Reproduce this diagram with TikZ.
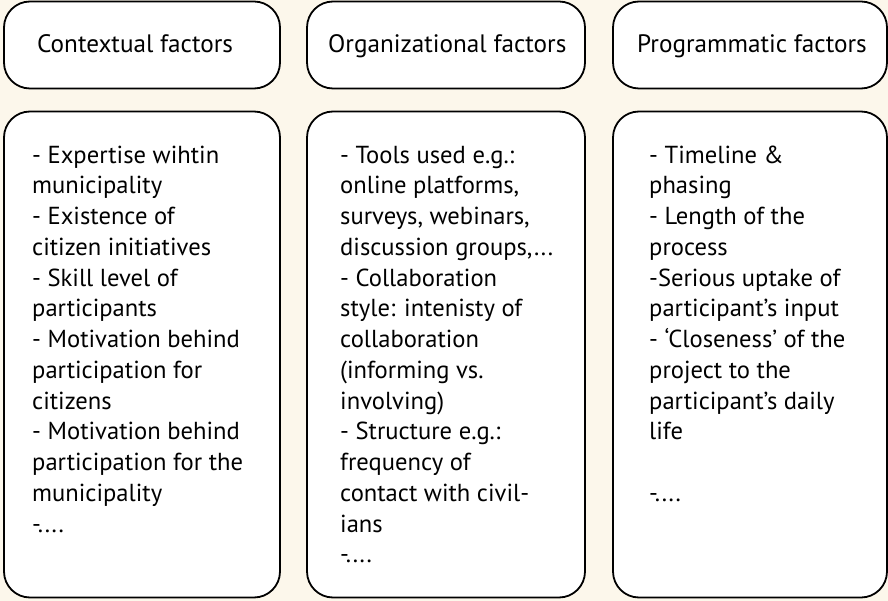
\documentclass[tikz,border=0pt]{standalone}
\usepackage{fontspec}
\setmainfont{PT Sans}
\definecolor{bgcream}{RGB}{252,247,235}
\begin{document}
\begin{tikzpicture}[x=1pt,y=-1pt,
  box/.style={draw=black,line width=1.8pt,fill=white,rounded corners=26pt,inner sep=0pt},
  head/.style={inner sep=0pt,anchor=base west,font=\fontsize{25.2}{30}\selectfont},
  body/.style={inner sep=0pt,anchor=base west,align=left,font=\fontsize{24.6}{30.75}\selectfont}]
\useasboundingbox (0,0) rectangle (888,601);
\fill[bgcream] (0,0) rectangle (888,601);
\node[box,minimum width=276pt,minimum height=87pt] (h1) at (142,45) {};
\node[box,minimum width=278pt,minimum height=87pt] (h2) at (446,45) {};
\node[box,minimum width=274pt,minimum height=87pt] (h3) at (750,45) {};
\node[box,minimum width=276pt,minimum height=486pt] (b1) at (142,354.5) {};
\node[box,minimum width=278pt,minimum height=486pt] (b2) at (446,354.5) {};
\node[box,minimum width=274pt,minimum height=486pt] (b3) at (750,354.5) {};
\node[head] (ht1) at (37,53) {Contextual factors};
\node[head] (ht2) at (328,53) {Organizational factors};
\node[head] (ht3) at (637,53) {Programmatic factors};
% anchor base = baseline of the last line
\node[body] (bt1) at (32,532) {- Expertise wihtin\\ municipality\\ - Existence of\\ citizen initiatives\\ - Skill level of\\ participants\\ - Motivation behind\\ participation for\\ citizens\\ - Motivation behind\\ participation for the\\ municipality\\ -....};
\node[body] (bt2) at (340,562.75) {- Tools used e.g.:\\ online platforms,\\ surveys, webinars,\\ discussion groups,...\\ - Collaboration\\ style: intenisty of\\ collaboration\\ (informing vs.\\ involving)\\ - Structure e.g.:\\ frequency of\\ contact with civil-\\ ians\\ -....};
\node[body] (bt3) at (649,501.25) {- Timeline \&\\ phasing\\ - Length of the\\ process\\ -Serious uptake of\\ participant’s input\\ - ‘Closeness’ of the\\ project to the\\ participant’s daily\\ life\\ \\ -....};
\end{tikzpicture}
\end{document}
